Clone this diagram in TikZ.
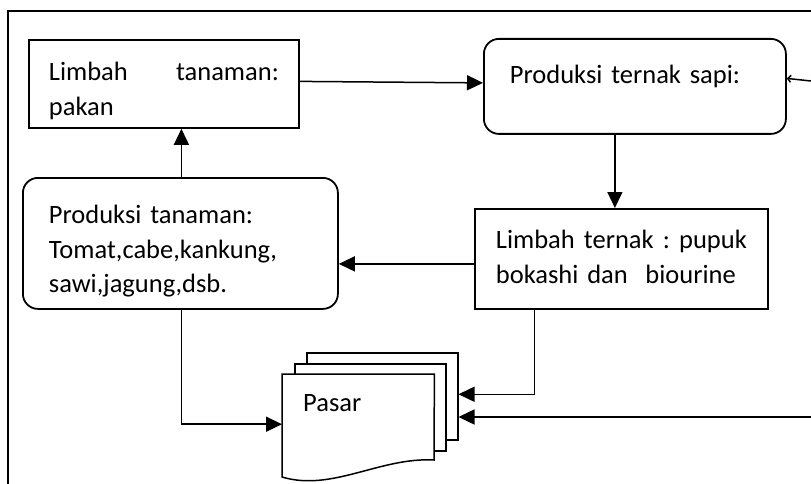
\documentclass[tikz,border=0pt]{standalone}
\usepackage{fontspec}
\setmainfont{Carlito}
\usetikzlibrary{arrows.meta,calc}
\begin{document}
\begin{tikzpicture}[x=1pt,y=-1pt,
    boxText/.style={font=\fontsize{26.5}{34.5}\selectfont, align=left},
    sharpBox/.style={boxText, draw, line width=1.8pt, anchor=north west, inner ysep=0pt},
    roundBox/.style={sharpBox, rounded corners=15pt},
    sheet/.style={draw, fill=white, line width=1.5pt, anchor=north west,
      minimum width=151pt, minimum height=87pt, inner sep=0pt},
    conn/.style={line width=1.5pt, -{Triangle[length=16pt,width=15pt]}},
]
\useasboundingbox (0,0) rectangle (811,484);

%% frame
\draw[line width=1.8pt] (811,11) -- (8,11) -- (8,484);

%% boxes
\node[sharpBox, minimum width=270pt, text height=41pt, text depth=47pt, text width=230pt, inner xsep=20pt]
  (limbahTanaman) at (28,39) {Limbah\hfill tanaman:\\pakan};
\node[roundBox, minimum width=302pt, text height=45pt, text depth=50pt, text width=250pt, inner xsep=26pt]
  (ternakSapi) at (483,38) {Produksi ternak sapi:};
\node[roundBox, minimum width=315pt, text height=46pt, text depth=85pt, text width=263pt, inner xsep=26pt]
  (produksiTanaman) at (22,177) {Produksi tanaman:\\Tomat,cabe,kankung,\\sawi,jagung,dsb.};
\node[sharpBox, minimum width=293pt, text height=40pt, text depth=60pt, text width=251pt, inner xsep=21pt]
  (limbahTernak) at (474,208) {Limbah\hfill ternak\hfill :\hfill pupuk\\bokashi dan\ \ biourine};

%% pasar (multi document)
\node[sheet] (sheetBack) at (306,352) {};
\node[sheet] (sheetMid) at (294,363) {};
\node[anchor=north west, minimum width=152pt, minimum height=100pt, inner sep=0pt]
  (pasar) at (282,374) {};
\draw[line width=1.5pt, fill=white] (pasar.north west) -- (pasar.north east) -- (434,460)
  .. controls (380,457) and (332,492) .. (282,477) -- cycle;
\node[boxText, anchor=west, inner sep=0pt] (pasarLabel) at ($(pasar.north west)+(21,29)$) {Pasar};

%% connectors
\draw[conn] ([yshift=2.5pt]limbahTanaman.east) -- ([yshift=3.5pt]ternakSapi.west);
\draw[conn] ([xshift=1pt]produksiTanaman.north) -- ([xshift=1pt]produksiTanaman.north |- limbahTanaman.south);
\draw[conn] ([xshift=-20pt]ternakSapi.south) -- ([xshift=-20pt]ternakSapi.south |- limbahTernak.north);
\draw[conn] ([yshift=-5pt]limbahTernak.west) -- ([yshift=-5pt]limbahTernak.west -| produksiTanaman.east);
\draw[conn] ([xshift=1pt]produksiTanaman.south) |- (pasar.west);
\draw[conn] ([xshift=-87pt]limbahTernak.south) |- ([yshift=2pt]sheetBack.east);
\coordinate (pasarFeed) at (811,417);
\draw[conn] (pasarFeed) -- (pasarFeed -| sheetBack.east);
\coordinate (sapiFeed) at (811,81);
\draw[line width=1.5pt, -{Straight Barb[length=3pt,width=7pt]}] (sapiFeed) -- ([yshift=8pt]ternakSapi.east);

\end{tikzpicture}
\end{document}
